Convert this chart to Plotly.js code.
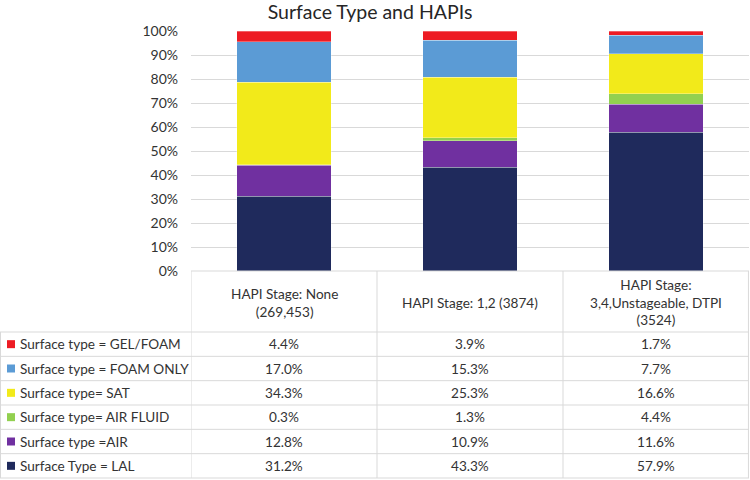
<!DOCTYPE html>
<html>
<head>
<meta charset="utf-8">
<script src="https://cdn.plot.ly/plotly-3.0.1.min.js"></script>
<style>html,body{margin:0;padding:0;background:#fff;}#chart{width:750px;height:480px;}</style>
</head>
<body>
<div id="chart"></div>
<script>
// ---- data ----
var categories = ["HAPI Stage: None<br>(269,453)", "HAPI Stage: 1,2 (3874)", "HAPI Stage:<br>3,4,Unstageable, DTPI<br>(3524)"];
var seriesNames = ["Surface type = GEL/FOAM", "Surface type = FOAM ONLY", "Surface type= SAT", "Surface type= AIR FLUID", "Surface type =AIR", "Surface Type = LAL"];
var gelFoam  = [4.4, 3.9, 1.7];
var foamOnly = [17.0, 15.3, 7.7];
var sat      = [34.3, 25.3, 16.6];
var airFluid = [0.3, 1.3, 4.4];
var air      = [12.8, 10.9, 11.6];
var lal      = [31.2, 43.3, 57.9];
var seriesValues = [gelFoam, foamOnly, sat, airFluid, air, lal];
var seriesColors = ["#ED1C24", "#5B9BD5", "#F2EA1A", "#92D050", "#7030A0", "#1F2A5C"];
var yTickVals = [0, 0.1, 0.2, 0.3, 0.4, 0.5, 0.6, 0.7, 0.8, 0.9, 1.0];
var yTickText = ["0%", "10%", "20%", "30%", "40%", "50%", "60%", "70%", "80%", "90%", "100%"];

// ---- layout constants (pixels) ----
var W = 750, H = 480;
var mL = 191, mR = 1, mT = 31, mB = 209;
var plotW = W - mL - mR, plotH = H - mT - mB;
function px(xpx) { return (xpx - mL) / plotW; }
function py(ypx) { return (H - mB - ypx) / plotH; }
var FONT = "Lato, 'Open Sans', sans-serif";
var txtColor = "#333333";
var lineColor = "#D9D9D9";
var TS = 13.6;

var xIdx = categories.map(function (c, i) { return i; });

// traces: stack bottom-up (LAL first)
var traces = [];
for (var s = seriesNames.length - 1; s >= 0; s--) {
  traces.push({
    type: "bar",
    name: seriesNames[s],
    x: xIdx,
    y: seriesValues[s].map(function (v) { return v / 100; }),
    marker: { color: seriesColors[s], line: { color: "rgba(255,255,255,0.6)", width: 0.5 } },
    width: 0.51,
    hoverinfo: "name+y"
  });
}

var shapes = [];
var annotations = [];
var tableTop = 271, headerBottom = 332, rowH = (478 - 332) / 6;

// horizontal lines
shapes.push({ type: "line", xref: "paper", yref: "paper", x0: 0, x1: 1, y0: py(tableTop), y1: py(tableTop), line: { color: lineColor, width: 1 } });
for (var r = 0; r <= seriesNames.length; r++) {
  var yy = headerBottom + r * rowH;
  shapes.push({ type: "line", xref: "paper", yref: "paper", x0: px(0), x1: 1, y0: py(yy), y1: py(yy), line: { color: lineColor, width: 1 } });
}
// vertical lines
for (var c = 0; c <= categories.length; c++) {
  var xv = c - 0.5;
  if (c === categories.length) xv = c - 0.5 - 0.003;
  shapes.push({ type: "line", xref: "x", yref: "paper", x0: xv, x1: xv, y0: py(tableTop), y1: py(478), line: { color: lineColor, width: 1 } });
}
shapes.push({ type: "line", xref: "paper", yref: "paper", x0: px(0.5), x1: px(0.5), y0: py(headerBottom), y1: py(478), line: { color: lineColor, width: 1 } });

// header texts
categories.forEach(function (cat, i) {
  annotations.push({ xref: "x", yref: "paper", x: i, y: py((tableTop + headerBottom) / 2 + 1), text: cat, showarrow: false,
    font: { family: FONT, size: TS, color: txtColor }, align: "center", xanchor: "center", yanchor: "middle" });
});

// rows
seriesNames.forEach(function (name, r) {
  var yc = headerBottom + (r + 0.5) * rowH;
  shapes.push({ type: "rect", xref: "paper", yref: "paper", x0: px(7), x1: px(15), y0: py(yc - 4), y1: py(yc + 4),
    fillcolor: seriesColors[r], line: { width: 0 } });
  annotations.push({ xref: "paper", yref: "paper", x: px(18), y: py(yc), text: name, showarrow: false,
    font: { family: FONT, size: TS, color: txtColor }, xanchor: "left", yanchor: "middle" });
  seriesValues[r].forEach(function (v, i) {
    annotations.push({ xref: "x", yref: "paper", x: i, y: py(yc), text: v.toFixed(1) + "%", showarrow: false,
      font: { family: FONT, size: TS, color: txtColor }, xanchor: "center", yanchor: "middle" });
  });
});

var layout = {
  width: W, height: H,
  margin: { l: mL, r: mR, t: mT, b: mB, pad: 0 },
  paper_bgcolor: "#ffffff", plot_bgcolor: "#ffffff",
  title: { text: "Surface Type and HAPIs", font: { family: FONT, size: 19.5, color: "#262626" },
    x: 370 / W, xanchor: "center", y: 1 - 12 / H, yanchor: "middle" },
  barmode: "stack",
  showlegend: false,
  xaxis: { range: [-0.5, 2.5], showticklabels: false, showgrid: false, zeroline: false, showline: false, ticks: "", fixedrange: true },
  yaxis: { range: [0, 1], tickvals: yTickVals, ticktext: yTickText, showgrid: true, gridcolor: lineColor, gridwidth: 1,
    zeroline: false, showline: false, ticks: "", ticklabelstandoff: 12,
    tickfont: { family: FONT, size: 14, color: txtColor }, fixedrange: true },
  shapes: shapes,
  annotations: annotations
};

Plotly.newPlot("chart", traces, layout, { displayModeBar: false, staticPlot: true });
</script>
</body>
</html>
